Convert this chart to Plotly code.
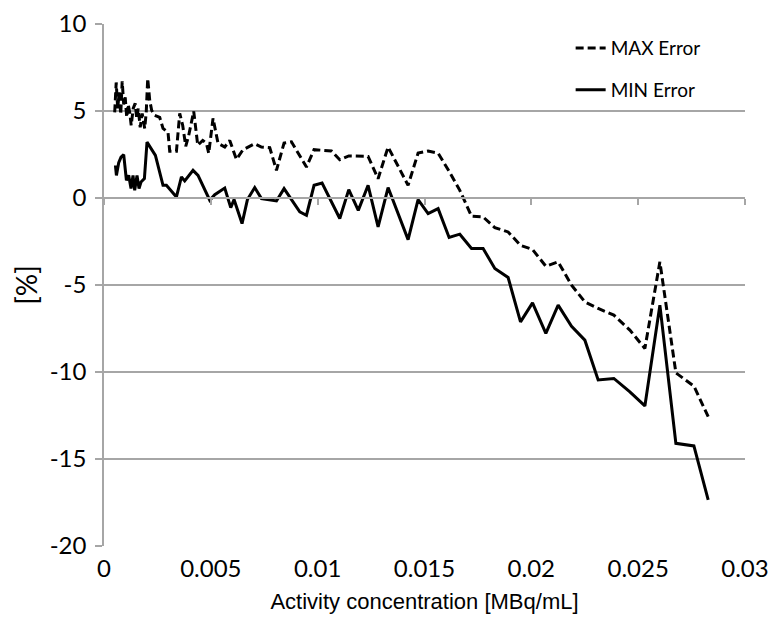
import plotly.graph_objects as go

# MAX Error (dashed)
max_x = [0.000501, 0.000571, 0.000641, 0.000712, 0.000782, 0.000852, 0.000922, 0.000993,
         0.001063, 0.001133, 0.001203, 0.001273, 0.001367, 0.001461, 0.001531, 0.001601,
         0.001695, 0.001788, 0.001905, 0.001976, 0.002046, 0.002140, 0.002233, 0.002374,
         0.002608, 0.002762, 0.002996, 0.003076, 0.003390, 0.003544, 0.003684, 0.003825,
         0.003965, 0.004199, 0.004387, 0.004621, 0.004794, 0.004902, 0.005103, 0.005337,
         0.005651, 0.005885, 0.006199, 0.006508, 0.007055, 0.007369, 0.007758, 0.008071,
         0.008427, 0.008773, 0.009476, 0.009831, 0.010646, 0.011035, 0.011456, 0.012360,
         0.012828, 0.013296, 0.014232, 0.014700, 0.015169, 0.015637, 0.016152, 0.016653,
         0.017200, 0.017743, 0.018291, 0.018914, 0.019494, 0.020056, 0.020679, 0.021255,
         0.021882, 0.022505, 0.023127, 0.023862, 0.024612, 0.025314, 0.026016, 0.026765,
         0.027608, 0.028277]
max_err = [4.92, 6.64, 5.15, 6.07, 4.80, 6.70, 5.38, 5.78,
           4.63, 5.38, 4.92, 4.17, 5.15, 5.44, 4.58, 5.15,
           4.06, 4.86, 4.00, 4.92, 6.87, 5.61, 5.03, 4.75,
           4.63, 4.00, 3.77, 2.68, 2.68, 4.86, 4.17, 2.97,
           3.60, 4.98, 3.03, 3.31, 3.14, 2.57, 4.58, 3.14,
           2.93, 3.31, 2.22, 2.78, 3.12, 2.93, 2.89, 1.59,
           3.16, 3.23, 1.78, 2.78, 2.70, 2.20, 2.42, 2.39,
           1.11, 2.93, 0.73, 2.58, 2.70, 2.58, 1.53, 0.44,
           -1.05, -1.09, -1.70, -1.95, -2.72, -2.96, -3.92, -3.67,
           -5.01, -5.97, -6.35, -6.73, -7.59, -8.65, -3.67, -10.05,
           -10.81, -12.57]

# MIN Error (solid)
min_x = [0.000534, 0.000581, 0.000688, 0.000796, 0.000922, 0.001049, 0.001156, 0.001264,
         0.001358, 0.001437, 0.001545, 0.001639, 0.001732, 0.001891, 0.002013, 0.002247,
         0.002406, 0.002762, 0.002921, 0.003390, 0.003624, 0.003778, 0.004167, 0.004401,
         0.004949, 0.005183, 0.005651, 0.005932, 0.006086, 0.006461, 0.006713, 0.007055,
         0.007369, 0.008071, 0.008427, 0.009162, 0.009476, 0.009831, 0.010206, 0.011035,
         0.011456, 0.011901, 0.012360, 0.012828, 0.013296, 0.014232, 0.014700, 0.015169,
         0.015637, 0.016152, 0.016653, 0.017200, 0.017743, 0.018291, 0.018914, 0.019494,
         0.020056, 0.020679, 0.021255, 0.021882, 0.022505, 0.023127, 0.023862, 0.024612,
         0.025314, 0.026016, 0.026765, 0.027608, 0.028277]
min_err = [1.88, 1.30, 2.03, 2.35, 2.49, 1.02, 1.30, 0.54,
           1.30, 0.44, 1.30, 0.54, 0.92, 1.11, 3.21, 2.74,
           2.45, 0.73, 0.73, 0.06, 1.21, 0.98, 1.59, 1.30,
           -0.13, 0.19, 0.57, -0.55, -0.09, -1.47, -0.09, 0.60,
           -0.03, -0.17, 0.54, -0.80, -0.99, 0.73, 0.86, -1.18,
           0.48, -0.71, 0.73, -1.66, 0.60, -2.39, -0.09, -0.90,
           -0.61, -2.27, -2.08, -2.90, -2.90, -4.05, -4.57, -7.12,
           -6.03, -7.78, -6.16, -7.37, -8.17, -10.46, -10.37, -11.14,
           -11.95, -6.16, -14.10, -14.25, -17.35]

x_ticks = [0, 0.005, 0.01, 0.015, 0.02, 0.025, 0.03]
x_tick_text = ["0", "0.005", "0.01", "0.015", "0.02", "0.025", "0.03"]
y_ticks = [-20, -15, -10, -5, 0, 5, 10]
y_tick_text = ["-20", "-15", "-10", "-5", "0", "5", "10"]

GRID = "#a6a6a6"
CAL = "Lato, 'Open Sans', sans-serif"

fig = go.Figure()
fig.add_trace(go.Scatter(x=max_x, y=max_err, mode="lines", name="MAX Error",
                         legendgroup="a",
                         line=dict(color="black", width=3, dash="8px,4px")))
fig.add_trace(go.Scatter(x=min_x, y=min_err, mode="lines", name="MIN Error",
                         legendgroup="b", xaxis="x2", yaxis="y",
                         line=dict(color="black", width=3)))

fig.update_layout(
    width=771, height=620,
    margin=dict(l=104, r=26, t=24, b=74),
    paper_bgcolor="white", plot_bgcolor="white",
    showlegend=True,
    legend=dict(x=0.728, y=0.990, xanchor="left", yanchor="top",
                traceorder="grouped", tracegroupgap=14,
                font=dict(family=CAL, size=19, color="black"),
                bgcolor="rgba(0,0,0,0)"),
    xaxis=dict(range=[0, 0.03], tickvals=x_ticks, ticktext=x_tick_text,
               automargin="height", ticklabelstandoff=6,
               showgrid=False, zeroline=False, showline=False, ticks="",
               tickfont=dict(family=CAL, size=24, color="black"),
               title=dict(text="Activity concentration [MBq/mL]", standoff=12,
                          font=dict(family="'Liberation Sans', Arial, sans-serif", size=22, color="black"))),
    xaxis2=dict(range=[0, 0.03], overlaying="x", anchor="free", position=2/3,
                automargin=False,
                tickvals=x_ticks, showticklabels=False, showgrid=False, zeroline=False,
                showline=True, linecolor=GRID, linewidth=1.5,
                ticks="outside", ticklen=6, tickcolor=GRID, tickwidth=1.5, side="bottom"),
    yaxis=dict(range=[-20, 10], tickvals=y_ticks, ticktext=y_tick_text,
               automargin="width",
               showgrid=True, gridcolor=GRID, gridwidth=1.5, zeroline=False,
               showline=True, linecolor=GRID, linewidth=1.5,
               ticks="outside", ticklen=7, tickcolor=GRID, tickwidth=1.5,
               ticklabelstandoff=4,
               tickfont=dict(family=CAL, size=24, color="black"),
               title=dict(text="[%]", standoff=4, font=dict(family=CAL, size=28, color="black"))),
)

fig.write_html("out.html")
